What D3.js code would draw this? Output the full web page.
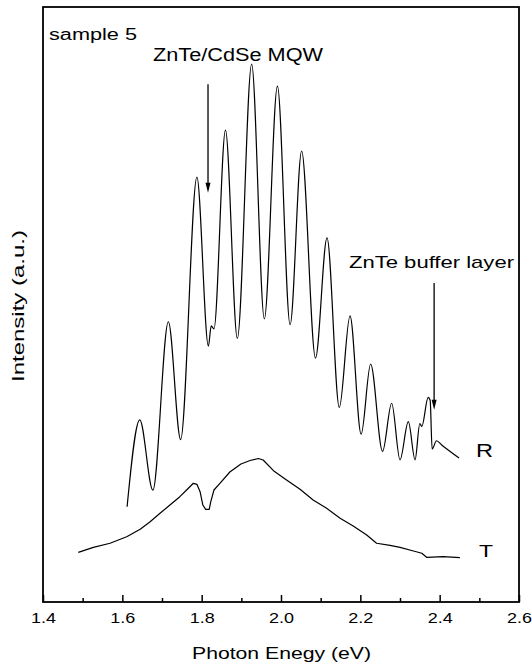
<!DOCTYPE html>
<html>
<head>
<meta charset="utf-8">
<script src="https://cdn.jsdelivr.net/npm/d3@7/dist/d3.min.js"></script>
<style>
  html, body { margin: 0; padding: 0; background: #fff; }
  svg { display: block; }
  text { font-family: "Liberation Sans", Arial, Helvetica, sans-serif; fill: #000; }
</style>
</head>
<body>
<svg id="chart" width="532" height="665"></svg>
<script>
// Reflectivity spectrum (R): photon energy in eV and intensity in arbitrary units
const rEnergy = [1.612, 1.644, 1.677, 1.716, 1.747, 1.788, 1.817, 1.824, 1.831, 1.860,
                 1.890, 1.926, 1.958, 1.991, 2.023, 2.052, 2.087, 2.116, 2.147, 2.174,
                 2.202, 2.226, 2.256, 2.279, 2.300, 2.321, 2.338, 2.350, 2.355, 2.371,
                 2.376, 2.381, 2.392, 2.405, 2.449];
const rIntensity = [16.0, 30.6, 18.8, 47.1, 27.3, 71.4, 43.0, 46.4, 45.9, 79.3,
                    44.3, 90.4, 47.6, 86.7, 46.6, 75.8, 41.0, 61.2, 32.7, 48.1,
                    28.2, 40.0, 25.3, 33.4, 23.9, 30.3, 23.9, 30.0, 29.5, 34.4,
                    33.9, 25.7, 27.1, 26.4, 24.2];

// Transmission spectrum (T)
const tEnergy = [1.489, 1.527, 1.569, 1.611, 1.645, 1.670, 1.695, 1.720, 1.745, 1.762,
                 1.779, 1.788, 1.796, 1.803, 1.810, 1.819, 1.823, 1.831, 1.846, 1.871,
                 1.899, 1.922, 1.943, 1.955, 1.981, 2.014, 2.048, 2.081, 2.115, 2.149,
                 2.182, 2.216, 2.241, 2.275, 2.300, 2.334, 2.355, 2.367, 2.409, 2.451];
const tIntensity = [8.35, 9.19, 9.87, 10.97, 12.22, 13.50, 14.91, 16.30, 17.70, 18.82,
                    19.95, 19.78, 18.54, 16.30, 15.58, 15.58, 16.86, 18.82, 19.95, 21.85,
                    23.19, 23.78, 24.12, 23.87, 22.07, 20.50, 18.94, 17.14, 15.75, 14.07,
                    12.77, 11.26, 9.87, 9.53, 9.19, 8.57, 8.19, 7.51, 7.61, 7.45];

// Axis ticks
const majorTicks = [1.4, 1.6, 1.8, 2.0, 2.2, 2.4, 2.6];
const minorTicks = [1.5, 1.7, 1.9, 2.1, 2.3, 2.5];

// Arrow annotations: energy they point at, arrow top and tip (a.u.)
const arrowEnergy = [1.816, 2.386];
const arrowTop = [87.0, 53.6];
const arrowTip = [68.8, 32.3];

const svg = d3.select("#chart");
const W = 532, H = 665;
const plot = { left: 43, right: 519, top: 7, bottom: 602 };

svg.append("rect").attr("width", W).attr("height", H).attr("fill", "#fff");

const x = d3.scaleLinear().domain([1.4, 2.6]).range([plot.left, plot.right]);
const y = d3.scaleLinear().domain([0, 100]).range([plot.bottom, plot.top]);

// plot frame
svg.append("rect")
  .attr("x", plot.left).attr("y", plot.top)
  .attr("width", plot.right - plot.left).attr("height", plot.bottom - plot.top)
  .attr("fill", "none").attr("stroke", "#000").attr("stroke-width", 1.8);

// bottom axis: major ticks with labels, pointing inward
const xAxis = d3.axisBottom(x).tickValues(majorTicks).tickSize(-7).tickPadding(10)
  .tickFormat(d3.format(".1f"));
const gx = svg.append("g").attr("transform", `translate(0,${plot.bottom})`).call(xAxis);
gx.select(".domain").remove();
gx.selectAll(".tick line").attr("stroke", "#000").attr("stroke-width", 1.5);
gx.selectAll(".tick text")
  .attr("font-size", 15)
  .attr("font-family", "Liberation Sans, Arial, sans-serif")
  .attr("textLength", 25).attr("lengthAdjust", "spacingAndGlyphs");

// minor ticks
const gm = svg.append("g").attr("transform", `translate(0,${plot.bottom})`)
  .call(d3.axisBottom(x).tickValues(minorTicks).tickSize(-4).tickFormat(""));
gm.select(".domain").remove();
gm.selectAll(".tick line").attr("stroke", "#000").attr("stroke-width", 1.5);

// spectra
const rData = d3.zip(rEnergy, rIntensity);
const tData = d3.zip(tEnergy, tIntensity);

svg.append("path").datum(rData)
  .attr("d", d3.line().x(d => x(d[0])).y(d => y(d[1])).curve(d3.curveMonotoneX))
  .attr("fill", "none").attr("stroke", "#000").attr("stroke-width", 1.2)
  .attr("stroke-linejoin", "round");

svg.append("path").datum(tData)
  .attr("d", d3.line().x(d => x(d[0])).y(d => y(d[1])).curve(d3.curveLinear))
  .attr("fill", "none").attr("stroke", "#000").attr("stroke-width", 1.2)
  .attr("stroke-linejoin", "round");

// arrows
arrowEnergy.forEach((e, i) => {
  const ax = x(e), y0 = y(arrowTop[i]), y1 = y(arrowTip[i]);
  svg.append("line").attr("x1", ax).attr("x2", ax).attr("y1", y0).attr("y2", y1 - 8)
    .attr("stroke", "#000").attr("stroke-width", 1.3);
  svg.append("path")
    .attr("d", `M${ax - 2.5},${y1 - 10} L${ax + 2.5},${y1 - 10} L${ax},${y1} Z`)
    .attr("fill", "#000");
});

// text labels
function label(txt, tx, ty, size, len, anchor) {
  const t = svg.append("text").attr("x", tx).attr("y", ty)
    .attr("font-size", size).text(txt);
  if (len) t.attr("textLength", len).attr("lengthAdjust", "spacingAndGlyphs");
  if (anchor) t.attr("text-anchor", anchor);
  return t;
}
label("sample 5", 49, 40, 16, 88);
label("ZnTe/CdSe MQW", 153, 61, 18, 170);
label("ZnTe buffer layer", 349, 268, 17, 165);
label("R", 476, 457, 18, 17);
label("T", 479, 557, 17, 14);
label("Photon Enegy (eV)", 192, 659, 17, 179);

svg.append("text")
  .attr("transform", "translate(24,306) rotate(-90)")
  .attr("text-anchor", "middle")
  .attr("font-size", 17)
  .attr("textLength", 152).attr("lengthAdjust", "spacingAndGlyphs")
  .text("Intensity (a.u.)");
</script>
</body>
</html>
